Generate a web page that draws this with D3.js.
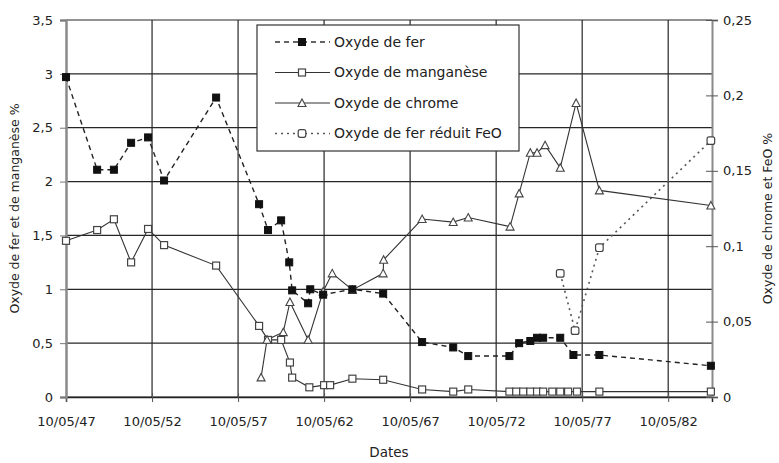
<!DOCTYPE html>
<html>
<head>
<meta charset="utf-8">
<script src="https://cdn.jsdelivr.net/npm/d3@7"></script>
<style>
  body { margin: 0; background: #fff; }
  svg text { font-family: "DejaVu Sans", sans-serif; fill: #222; }
</style>
</head>
<body>
<div class="chart"></div>
<script>
// dates and values
const feDates = ['1947-05-10', '1949-03-01', '1950-02-20', '1951-02-20', '1952-02-15', '1953-01-20',
  '1956-01-30', '1958-07-30', '1959-02-05', '1959-11-10', '1960-04-30', '1960-07-01', '1961-06-05',
  '1961-07-20', '1962-04-20', '1964-01-01', '1965-10-15', '1968-01-20', '1969-11-10', '1970-09-25',
  '1973-02-15', '1973-09-10', '1974-05-05', '1974-09-25', '1975-02-01', '1976-01-30', '1976-11-05',
  '1978-05-10', '1984-11-01'];
const feValues = [2.97, 2.11, 2.11, 2.36, 2.41, 2.01, 2.78, 1.79, 1.55, 1.64, 1.25, 0.99, 0.87,
  1.0, 0.95, 1.0, 0.96, 0.51, 0.46, 0.38, 0.38, 0.5, 0.52, 0.55, 0.55, 0.55, 0.39, 0.39, 0.29];

const mnDates = ['1947-05-10', '1949-03-01', '1950-02-20', '1951-02-20', '1952-02-15', '1953-01-20',
  '1956-01-30', '1958-07-30', '1959-02-05', '1959-11-10', '1960-05-15', '1960-07-01', '1961-07-01',
  '1962-05-10', '1962-09-15', '1964-01-01', '1965-10-15', '1968-01-20', '1969-11-10', '1970-09-25',
  '1973-02-15', '1973-07-10', '1973-12-05', '1974-05-05', '1974-09-25', '1975-02-01', '1975-08-15',
  '1976-01-30', '1976-07-15', '1977-01-20', '1978-05-10', '1984-11-01'];
const mnValues = [1.45, 1.55, 1.65, 1.25, 1.56, 1.41, 1.22, 0.66, 0.53, 0.53, 0.32, 0.18, 0.09,
  0.11, 0.11, 0.17, 0.16, 0.07, 0.05, 0.07, 0.05, 0.05, 0.05, 0.05, 0.05, 0.05, 0.05,
  0.05, 0.05, 0.05, 0.05, 0.05];

const crDates = ['1958-09-10', '1959-01-15', '1959-12-25', '1960-05-15', '1961-06-05', '1962-04-20',
  '1962-10-30', '1964-01-01', '1965-10-15', '1965-10-25', '1968-01-20', '1969-11-10', '1970-09-25',
  '1973-03-01', '1973-09-10', '1974-05-05', '1974-09-25', '1975-03-15', '1976-01-30', '1977-01-01',
  '1978-05-10', '1984-11-01'];
const crValues = [0.013, 0.038, 0.043, 0.063, 0.038, 0.07, 0.082, 0.071, 0.082, 0.091, 0.118, 0.116,
  0.119, 0.113, 0.135, 0.162, 0.162, 0.167, 0.152, 0.195, 0.137, 0.127];

const feoDates = ['1976-01-30', '1976-12-10', '1978-05-10', '1984-11-01'];
const feoValues = [0.082, 0.044, 0.099, 0.17];

const xTicks = ['1947-05-10', '1952-05-10', '1957-05-10', '1962-05-10', '1967-05-10',
  '1972-05-10', '1977-05-10', '1982-05-10'];
const leftTicks = [0, 0.5, 1, 1.5, 2, 2.5, 3, 3.5];
const rightTicks = [0, 0.05, 0.1, 0.15, 0.2, 0.25];

const seriesNames = ['Oxyde de fer', 'Oxyde de manganèse', 'Oxyde de chrome', 'Oxyde de fer réduit FeO'];

const width = 779,
      height = 463,
      margin = {top: 20, right: 67, bottom: 66, left: 66};
const innerW = width - margin.left - margin.right,
      innerH = height - margin.top - margin.bottom;

const parse = d3.timeParse('%Y-%m-%d');
const fr = d3.formatLocale({decimal: ',', thousands: ' ', grouping: [3], currency: ['', '€']});
const num = v => fr.format('~g')(v);

const x = d3.scaleTime()
            .domain([parse('1947-05-10'), parse('1984-11-25')])
            .range([0, innerW]);
const yLeft = d3.scaleLinear().domain([0, 3.5]).range([innerH, 0]);
const yRight = d3.scaleLinear().domain([0, 0.25]).range([innerH, 0]);

const svg = d3.select('.chart').append('svg')
              .attr('width', width)
              .attr('height', height);
const g = svg.append('g').attr('transform', `translate(${margin.left},${margin.top})`);

// grid
g.selectAll('line.hgrid')
 .data(leftTicks)
 .enter().append('line')
 .attr('class', 'hgrid')
 .attr('x1', 0).attr('x2', innerW)
 .attr('y1', d => yLeft(d)).attr('y2', d => yLeft(d))
 .attr('stroke', '#262626').attr('stroke-width', 1.2);

g.selectAll('line.vgrid')
 .data(xTicks.slice(1))
 .enter().append('line')
 .attr('class', 'vgrid')
 .attr('x1', d => x(parse(d))).attr('x2', d => x(parse(d)))
 .attr('y1', 0).attr('y2', innerH)
 .attr('stroke', '#262626').attr('stroke-width', 1.2);

// axes
const xAxis = g.append('g')
               .attr('transform', `translate(0,${innerH})`)
               .call(d3.axisBottom(x)
                       .tickValues(xTicks.map(parse))
                       .tickFormat(d3.timeFormat('%d/%m/%y'))
                       .tickSize(5).tickPadding(15));
xAxis.selectAll('.tick line').attr('y1', -4).attr('stroke', '#555');
xAxis.select('.domain').attr('stroke', '#222').attr('stroke-width', 1.5);

const leftAxis = g.append('g')
                  .call(d3.axisLeft(yLeft).tickValues(leftTicks).tickFormat(num)
                          .tickSize(6).tickPadding(7));
leftAxis.select('.domain').attr('stroke', '#8a8a8a').attr('stroke-width', 2.5);
leftAxis.selectAll('.tick line').attr('stroke', '#777');

const rightAxis = g.append('g')
                   .attr('transform', `translate(${innerW},0)`)
                   .call(d3.axisRight(yRight).tickValues(rightTicks).tickFormat(num)
                           .tickSize(6).tickPadding(5));
rightAxis.selectAll('.tick line').attr('x1', -6).attr('stroke', '#555');
rightAxis.select('.domain').attr('stroke', '#8a8a8a').attr('stroke-width', 2);

svg.selectAll('.tick text').style('font-size', '13px').style('fill', '#222');
svg.selectAll('.domain').attr('d', function() { return d3.select(this).attr('d').replace(/M[^V]*V/, m => m); });

// axis titles
svg.append('text')
   .attr('transform', `translate(15,${margin.top + innerH / 2}) rotate(-90)`)
   .attr('text-anchor', 'middle').attr('dy', '0.35em')
   .style('font-size', '12.5px')
   .text('Oxyde de fer et de manganèse %');
svg.append('text')
   .attr('transform', `translate(768,${margin.top + innerH / 2 + 10}) rotate(-90)`)
   .attr('text-anchor', 'middle').attr('dy', '0.35em')
   .style('font-size', '12.5px')
   .text('Oxyde de chrome et FeO %');
svg.append('text')
   .attr('x', margin.left + innerW / 2).attr('y', 457)
   .attr('text-anchor', 'middle')
   .style('font-size', '13.5px')
   .text('Dates');

// series
const mk = (dates, values) => dates.map((d, i) => ({date: parse(d), val: values[i]}));
const fe = mk(feDates, feValues),
      mn = mk(mnDates, mnValues),
      cr = mk(crDates, crValues),
      feo = mk(feoDates, feoValues);

const lineL = d3.line().x(d => x(d.date)).y(d => yLeft(d.val));
const lineR = d3.line().x(d => x(d.date)).y(d => yRight(d.val));

const styles = [
  {dash: '5,4', width: 1.4},
  {dash: null, width: 1.1},
  {dash: null, width: 1.1},
  {dash: '2,4', width: 1.6}
];

g.append('path').datum(mn).attr('d', lineL)
 .attr('fill', 'none').attr('stroke', '#333').attr('stroke-width', styles[1].width);
g.append('path').datum(cr).attr('d', lineR)
 .attr('fill', 'none').attr('stroke', '#333').attr('stroke-width', styles[2].width);
g.append('path').datum(feo).attr('d', lineR)
 .attr('fill', 'none').attr('stroke', '#555').attr('stroke-width', styles[3].width)
 .attr('stroke-dasharray', styles[3].dash);
g.append('path').datum(fe).attr('d', lineL)
 .attr('fill', 'none').attr('stroke', '#222').attr('stroke-width', styles[0].width)
 .attr('stroke-dasharray', styles[0].dash);

function drawMarker(sel, type) {
  if (type === 0) {
    sel.append('rect').attr('x', -3.5).attr('y', -3.5).attr('width', 7).attr('height', 7)
       .attr('fill', '#111').attr('stroke', '#111');
  } else if (type === 1) {
    sel.append('rect').attr('x', -3.5).attr('y', -3.5).attr('width', 7).attr('height', 7)
       .attr('fill', '#fff').attr('stroke', '#444').attr('stroke-width', 1.2);
  } else if (type === 2) {
    sel.append('path').attr('d', 'M0,-4L4,3.5L-4,3.5Z')
       .attr('fill', '#fff').attr('stroke', '#444').attr('stroke-width', 1.1);
  } else {
    sel.append('rect').attr('x', -3.8).attr('y', -3.8).attr('width', 7.6).attr('height', 7.6)
       .attr('rx', 2)
       .attr('fill', '#fff').attr('stroke', '#444').attr('stroke-width', 1.2);
  }
}

[[mn, yLeft, 1], [cr, yRight, 2], [feo, yRight, 3], [fe, yLeft, 0]].forEach(([data, ys, type]) => {
  g.append('g').selectAll('g')
   .data(data)
   .enter().append('g')
   .attr('transform', d => `translate(${x(d.date)},${ys(d.val)})`)
   .each(function() { drawMarker(d3.select(this), type); });
});

// legend
const legend = svg.append('g').attr('transform', 'translate(257,25)');
legend.append('rect')
      .attr('width', 262).attr('height', 126)
      .attr('fill', '#fff').attr('stroke', '#333').attr('stroke-width', 1.2);

const item = legend.selectAll('g.item')
                   .data(seriesNames)
                   .enter().append('g')
                   .attr('class', 'item')
                   .attr('transform', (d, i) => `translate(0,${17 + i * 30.5})`);
item.append('line')
    .attr('x1', 18).attr('x2', 73)
    .attr('stroke', (d, i) => i === 3 ? '#555' : '#333')
    .attr('stroke-width', (d, i) => styles[i].width)
    .attr('stroke-dasharray', (d, i) => styles[i].dash);
item.append('g')
    .attr('transform', 'translate(45,0)')
    .each(function(d, i) { drawMarker(d3.select(this), i); });
item.append('text')
    .attr('x', 77).attr('dy', '0.35em')
    .style('font-size', '14px')
    .text(d => d);
</script>
</body>
</html>
